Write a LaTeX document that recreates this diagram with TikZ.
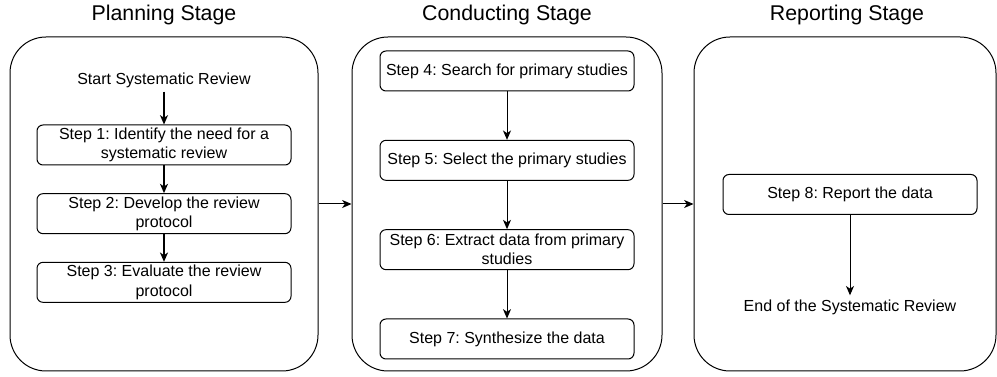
\documentclass[tikz,border=0pt]{standalone}
\usepackage{fontspec}
\setmainfont{Liberation Sans}
\usetikzlibrary{arrows.meta,positioning}
\frenchspacing
\tikzset{
    stage/.style={
           rectangle,
           rounded corners=27pt,
           draw=black, line width=0.75pt,
           minimum width=231pt,
           minimum height=250.5pt,
           },
    stepbox/.style={
           rectangle,
           rounded corners=4.5pt,
           draw=black, line width=0.75pt,
           text width=186pt,
           inner xsep=2.25pt,
           inner ysep=1pt,
           minimum height=30pt,
           align=flush center,
           font=\fontsize{12}{14.4}\selectfont\frenchspacing,
           },
    endpoint/.style={
           inner sep=3pt,
           font=\fontsize{12}{14.4}\selectfont\frenchspacing,
           },
    stagetitle/.style={
           font=\fontsize{16}{19}\selectfont,
           },
    flow/.style={
           -{Stealth[length=7pt,width=6pt,inset=2pt]},
           line width=0.75pt,
           },
}

\begin{document}
\begin{tikzpicture}[x=0.75pt, y=-0.75pt]
    \useasboundingbox (0,0) rectangle (997,377);

    % the three stages (big rounded frames)
    \node[stage] (planning) at (164,204) {};
    \node[stage, minimum width=232.5pt] (conducting) at (507,204) {};
    \node[stage, minimum width=226.5pt] (reporting) at (845,204) {};

    % stage titles
    \node[stagetitle] (tplanning) at (164,15) {Planning Stage};
    \node[stagetitle] (tconducting) at (507,15) {Conducting Stage};
    \node[stagetitle] (treporting) at (847,15) {Reporting Stage};

    % Planning: start and steps 1-3
    \node[endpoint] (start) at (164,80) {Start Systematic Review};

    \node[stepbox,      	% layout (defined above)
    below of=start,
    node distance=48.75pt] (s1)
    {Step 1: Identify the need for a systematic review};

    \node[stepbox, below of=s1, node distance=51.5pt] (s2)
    {Step 2: Develop the review protocol};

    \node[stepbox, below of=s2, node distance=51.5pt] (s3)
    {Step 3: Evaluate the review protocol};

    % Conducting: steps 4-7
    \node[stepbox] (s4) at (507,71) {Step 4: Search for primary studies};
    \node[stepbox, below of=s4, node distance=67pt] (s5) {Step 5: Select the primary studies};
    \node[stepbox, below of=s5, node distance=67pt] (s6) {Step 6: Extract data from primary studies};
    \node[stepbox, below of=s6, node distance=67pt] (s7) {Step 7: Synthesize the data};

    % Reporting: step 8 and the end
    \node[stepbox] (s8) at (850,194.5) {Step 8: Report the data};
    \node[endpoint, below of=s8, node distance=84.4pt] (finish) {End of the Systematic Review};

    % draw the arrows
    \path
        (start) edge[flow, line width=1.1pt] (s1)
        (s1)    edge[flow, line width=1.1pt] (s2)
        (s2)    edge[flow, line width=1.1pt] (s3)

        (s4) edge[flow] (s5)
        (s5) edge[flow] (s6)
        (s6) edge[flow] (s7)

        (s8) edge[flow] (finish)

        (planning)   edge[flow] (conducting)
        (conducting) edge[flow] (reporting);
\end{tikzpicture}
\end{document}
